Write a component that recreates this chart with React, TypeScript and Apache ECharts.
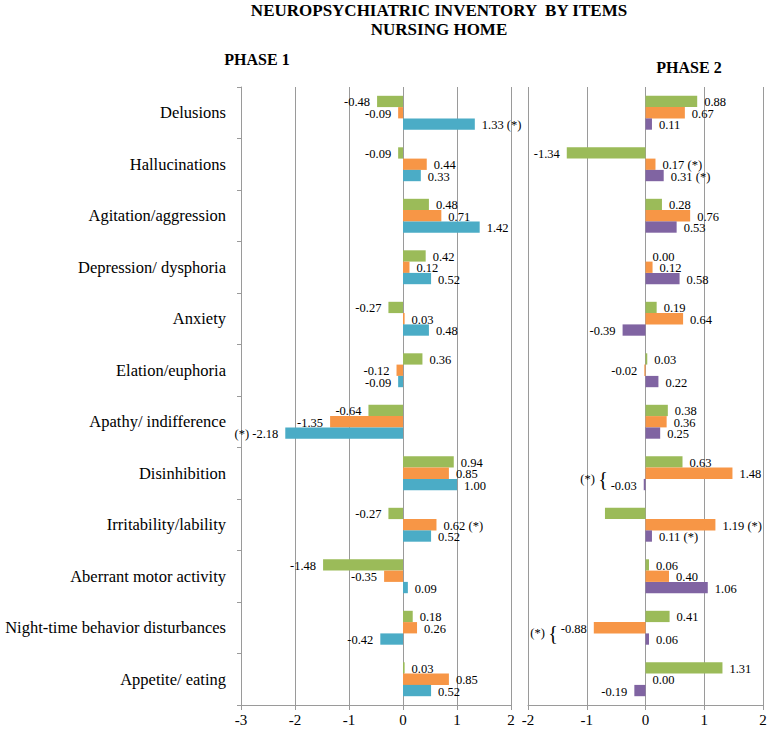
import React, { useEffect, useRef } from "react";
import * as echarts from "echarts";

const categories = [
  "Delusions",
  "Hallucinations",
  "Agitation/aggression",
  "Depression/ dysphoria",
  "Anxiety",
  "Elation/euphoria",
  "Apathy/ indifference",
  "Disinhibition",
  "Irritability/lability",
  "Aberrant motor activity",
  "Night-time behavior disturbances",
  "Appetite/ eating",
];

const phase1Green = [-0.48, -0.09, 0.48, 0.42, -0.27, 0.36, -0.64, 0.94, -0.27, -1.48, 0.18, 0.03];
const phase1Orange = [-0.09, 0.44, 0.71, 0.12, 0.03, -0.12, -1.35, 0.85, 0.62, -0.35, 0.26, 0.85];
const phase1Blue = [1.33, 0.33, 1.42, 0.52, 0.48, -0.09, -2.18, 1.0, 0.52, 0.09, -0.42, 0.52];
const phase2Green = [0.88, -1.34, 0.28, 0.0, 0.19, 0.03, 0.38, 0.63, -0.69, 0.06, 0.41, 1.31];
const phase2Orange = [0.67, 0.17, 0.76, 0.12, 0.64, -0.02, 0.36, 1.48, 1.19, 0.4, -0.88, 0.0];
const phase2Purple = [0.11, 0.31, 0.53, 0.58, -0.39, 0.22, 0.25, -0.03, 0.11, 1.06, 0.06, -0.19];

// label marks: "*" significance, "hide" no label, "brace" significance brace
const phase1GreenMarks = ["", "", "", "", "", "", "", "", "", "", "", ""];
const phase1OrangeMarks = ["", "", "", "", "", "", "", "", "*", "", "", ""];
const phase1BlueMarks = ["*", "", "", "", "", "", "*", "", "", "", "", ""];
const phase2GreenMarks = ["", "", "", "", "", "", "", "", "hide", "", "", ""];
const phase2OrangeMarks = ["", "*", "", "", "", "", "", "", "*", "", "brace", ""];
const phase2PurpleMarks = ["", "*", "", "", "", "", "", "brace", "*", "", "", ""];

const phase1Ticks = [-3, -2, -1, 0, 1, 2];
const phase2Ticks = [-2, -1, 0, 1, 2];

const GREEN = "#9BBB59";
const ORANGE = "#F79646";
const BLUE = "#4BACC6";
const PURPLE = "#8064A2";
const GRID_GRAY = "#9a9a9a";
const SERIF = "'Liberation Serif', 'Times New Roman', serif";
const BAR_W = 11.3;

function makeData(values: number[], marks: string[]) {
  return values.map((v, i) => {
    const m = marks[i];
    const txt = v.toFixed(2);
    let text = txt;
    if (m === "*") text = v < 0 ? `(*) ${txt}` : `${txt} (*)`;
    return {
      value: v,
      label: {
        show: m !== "hide",
        position: v < 0 ? "left" : "right",
        formatter: text,
      },
    };
  });
}

function barSeries(name: string, values: number[], marks: string[], color: string, axis: number) {
  return {
    name,
    type: "bar",
    xAxisIndex: axis === 0 ? 0 : 1,
    yAxisIndex: axis === 0 ? 0 : 2,
    barWidth: BAR_W,
    barGap: "0%",
    itemStyle: { color },
    label: {
      show: true,
      distance: 7,
      offset: [0, 1],
      color: "#000",
      fontFamily: SERIF,
      fontSize: 12.5,
    },
    data: makeData(values, marks),
  };
}

export default function App() {
  const ref = useRef<HTMLDivElement>(null);
  useEffect(() => {
    if (!ref.current) return;
    const chart = echarts.init(ref.current, undefined, { renderer: "svg" });
    const xAxisCommon = {
      type: "value",
      interval: 1,
      axisLine: { show: true, onZero: false, lineStyle: { color: GRID_GRAY } },
      axisTick: { show: true, length: 5, lineStyle: { color: GRID_GRAY } },
      axisLabel: { color: "#000", fontFamily: SERIF, fontSize: 15, margin: 7 },
      splitLine: { show: true, lineStyle: { color: GRID_GRAY, width: 1 } },
    };
    chart.setOption({
      animation: false,
      backgroundColor: "#fff",
      grid: [
        { left: 241, right: 256, top: 87, bottom: 24, containLabel: false, outerBoundsMode: "none" },
        { left: 528, right: 4, top: 87, bottom: 24, containLabel: false, outerBoundsMode: "none" },
      ],
      xAxis: [
        { ...xAxisCommon, gridIndex: 0, min: phase1Ticks[0], max: phase1Ticks[phase1Ticks.length - 1] },
        { ...xAxisCommon, gridIndex: 1, min: phase2Ticks[0], max: phase2Ticks[phase2Ticks.length - 1] },
      ],
      yAxis: [
        {
          type: "category",
          gridIndex: 0,
          data: categories,
          inverse: true,
          position: "left",
          axisLine: { show: false },
          axisTick: { show: false },
          axisLabel: { color: "#000", fontFamily: SERIF, fontSize: 16.5, margin: 15 },
        },
        {
          type: "category",
          gridIndex: 0,
          data: categories,
          inverse: true,
          position: "left",
          axisLine: { show: true, onZero: true, lineStyle: { color: GRID_GRAY } },
          axisTick: { show: true, length: 4, lineStyle: { color: GRID_GRAY } },
          axisLabel: { show: false },
        },
        {
          type: "category",
          gridIndex: 1,
          data: categories,
          inverse: true,
          position: "left",
          axisLine: { show: false },
          axisTick: { show: false },
          axisLabel: { show: false },
        },
      ],
      series: [
        barSeries("Phase 1 green", phase1Green, phase1GreenMarks, GREEN, 0),
        barSeries("Phase 1 orange", phase1Orange, phase1OrangeMarks, ORANGE, 0),
        barSeries("Phase 1 blue", phase1Blue, phase1BlueMarks, BLUE, 0),
        barSeries("Phase 2 green", phase2Green, phase2GreenMarks, GREEN, 1),
        barSeries("Phase 2 orange", phase2Orange, phase2OrangeMarks, ORANGE, 1),
        barSeries("Phase 2 purple", phase2Purple, phase2PurpleMarks, PURPLE, 1),
      ],
    });

    // braces for significance groups in phase 2
    const braces: any[] = [];
    const addBraces = (values: number[], marks: string[]) => {
      marks.forEach((m, i) => {
        if (m !== "brace") return;
        const p = chart.convertToPixel({ gridIndex: 1 } as any, [values[i], categories[i]]) as number[];
        braces.push({
          type: "text",
          x: p[0] - 36,
          y: p[1] + BAR_W * 0.5,
          style: {
            text: "{a|(*)} {b|{}",
            textAlign: "right",
            textVerticalAlign: "middle",
            fill: "#000",
            rich: {
              a: { fontFamily: SERIF, fontSize: 12.5, fill: "#000" },
              b: { fontFamily: SERIF, fontSize: 20, fill: "#000" },
            },
          },
        });
      });
    };
    addBraces(phase2Orange, phase2OrangeMarks);
    addBraces(phase2Purple, phase2PurpleMarks);

    const head = (text: string, x: number, y: number, size: number) => ({
      type: "text",
      x,
      y,
      style: {
        text,
        textAlign: "center",
        textVerticalAlign: "middle",
        fill: "#000",
        font: `bold ${size}px ${SERIF}`,
      },
    });

    chart.setOption({
      graphic: [
        head("NEUROPSYCHIATRIC INVENTORY  BY ITEMS", 439, 10, 17),
        head("NURSING HOME", 439, 29, 17),
        head("PHASE 1", 257, 59, 16),
        head("PHASE 2", 689, 67, 16),
        ...braces,
      ],
    });
    return () => chart.dispose();
  }, []);
  return (
    <div
      ref={ref}
      style={{ position: "absolute", left: 0, top: 0, width: 767, height: 729, background: "#fff" }}
    />
  );
}
